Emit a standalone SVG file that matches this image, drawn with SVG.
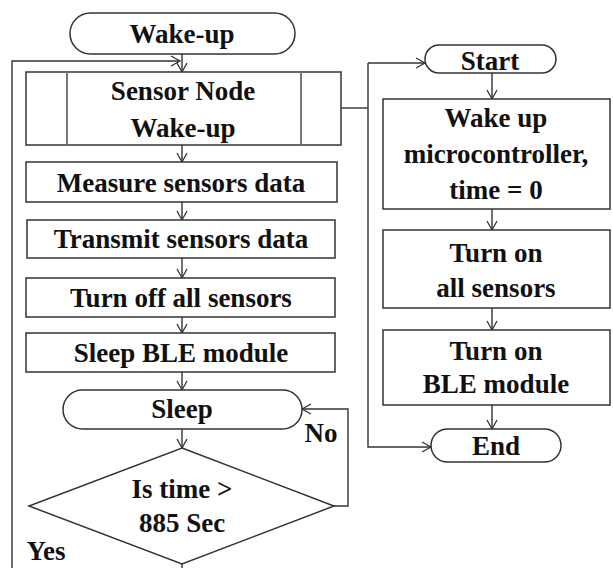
<svg xmlns="http://www.w3.org/2000/svg" width="613" height="568" viewBox="0 0 613 568">
<defs>
<marker id="arr" markerWidth="12" markerHeight="12" refX="10" refY="6" orient="auto" markerUnits="userSpaceOnUse">
<path d="M1,1 L10,6 L1,11" fill="none" stroke="#333" stroke-width="1.3"/>
</marker>
<style>
.box{fill:#fff;stroke:#333;stroke-width:1.5}
.in{stroke:#777;stroke-width:2}
.c{fill:none;stroke:#333;stroke-width:1.4}
.t{font-family:'Liberation Serif','Times New Roman',Times,Tinos,'Nimbus Roman','Noto Serif','DejaVu Serif',serif;font-weight:700;font-size:27px;fill:#111;text-anchor:middle}
</style>
</defs>
<rect width="613" height="568" fill="#fff"/>
<g id="connectors">
<line class="c" x1="182" y1="54" x2="182" y2="72" marker-end="url(#arr)"/>
<polyline class="c" points="12,568 12,61 180,61" marker-end="url(#arr)"/>
<line class="c" x1="182" y1="145" x2="182" y2="162" marker-end="url(#arr)"/>
<line class="c" x1="182" y1="202" x2="182" y2="220" marker-end="url(#arr)"/>
<line class="c" x1="182" y1="258" x2="182" y2="278" marker-end="url(#arr)"/>
<line class="c" x1="182" y1="317" x2="182" y2="333" marker-end="url(#arr)"/>
<line class="c" x1="182" y1="372" x2="182" y2="390" marker-end="url(#arr)"/>
<line class="c" x1="182" y1="429" x2="182" y2="448" marker-end="url(#arr)"/>
<polyline class="c" points="334,506 348,506 348,409 302,409" marker-end="url(#arr)"/>
<line class="c" x1="182" y1="564" x2="182" y2="568"/>
<polyline class="c" points="341,108 368,108"/>
<polyline class="c" points="368,63 368,447 431,447" marker-end="url(#arr)"/>
<line class="c" x1="368" y1="63" x2="425" y2="63" marker-end="url(#arr)"/>
<line class="c" x1="492" y1="73" x2="492" y2="99" marker-end="url(#arr)"/>
<line class="c" x1="492" y1="209" x2="492" y2="230" marker-end="url(#arr)"/>
<line class="c" x1="492" y1="308" x2="492" y2="330" marker-end="url(#arr)"/>
<line class="c" x1="492" y1="405" x2="492" y2="429" marker-end="url(#arr)"/>
</g>
<g id="wakeup"><rect class="box" x="70" y="13" width="225" height="41" rx="20.5"/><text class="t" x="182" y="43">Wake-up</text></g>
<g id="sensornode"><rect class="box" x="26" y="72" width="315" height="73"/><line class="in" x1="67" y1="72" x2="67" y2="145"/><line class="in" x1="301" y1="72" x2="301" y2="145"/><text class="t" x="183" y="100">Sensor Node</text><text class="t" x="183" y="137">Wake-up</text></g>
<g id="measure"><rect class="box" x="26" y="162" width="311" height="40"/><text class="t" x="181" y="192">Measure sensors data</text></g>
<g id="transmit"><rect class="box" x="27" y="220" width="308" height="38"/><text class="t" x="181" y="248">Transmit sensors data</text></g>
<g id="turnoff"><rect class="box" x="26" y="278" width="309" height="39"/><text class="t" x="181" y="307">Turn off all sensors</text></g>
<g id="sleepble"><rect class="box" x="26" y="333" width="309" height="39"/><text class="t" x="181" y="362">Sleep BLE module</text></g>
<g id="sleep"><rect class="box" x="63" y="390" width="239" height="39" rx="19.5"/><text class="t" x="182" y="418">Sleep</text></g>
<g id="decision"><polygon class="box" points="182,448 334,506 182,564 29,506"/><text class="t" x="182" y="498">Is time &gt;</text><text class="t" x="182" y="532">885 Sec</text></g>
<g id="labels"><text class="t" x="321" y="442">No</text><text class="t" x="46" y="560">Yes</text></g>
<g id="start"><rect class="box" x="425" y="45" width="131" height="28" rx="14"/><text class="t" x="490" y="70">Start</text></g>
<g id="wakemcu"><rect class="box" x="383" y="99" width="227" height="110"/><text class="t" x="496" y="127">Wake up</text><text class="t" x="496" y="163">microcontroller,</text><text class="t" x="496" y="199">time = 0</text></g>
<g id="turnonsensors"><rect class="box" x="383" y="230" width="227" height="78"/><text class="t" x="496" y="262">Turn on</text><text class="t" x="496" y="297">all sensors</text></g>
<g id="turnonble"><rect class="box" x="383" y="330" width="227" height="75"/><text class="t" x="496" y="360">Turn on</text><text class="t" x="496" y="393">BLE module</text></g>
<g id="end"><rect class="box" x="431" y="429" width="130" height="33" rx="16.5"/><text class="t" x="496" y="455">End</text></g>
</svg>
